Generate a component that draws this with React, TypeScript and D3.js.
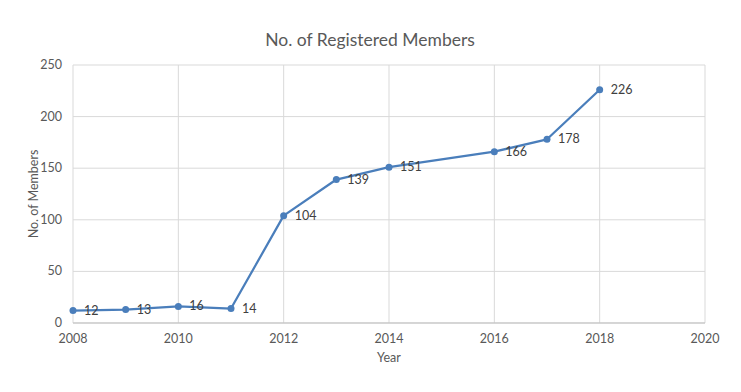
import * as d3 from 'd3';

// Registered members per year
const years = [2008, 2009, 2010, 2011, 2012, 2013, 2014, 2016, 2017, 2018];
const members = [12, 13, 16, 14, 104, 139, 151, 166, 178, 226];
const xTicks = [2008, 2010, 2012, 2014, 2016, 2018, 2020];
const yTicks = [0, 50, 100, 150, 200, 250];

const W = 741;
const H = 392;
const FONT = 'Lato, "Open Sans", sans-serif';
const LINE = '#4A7EBB';

export default function App() {
  const x = d3.scaleLinear().domain([2008, 2020]).range([73, 705]);
  const y = d3.scaleLinear().domain([0, 250]).range([323, 65]);
  const pts = years.map((yr, i) => ({ yr, v: members[i] }));
  const line = d3.line<{ yr: number; v: number }>()
    .x((d) => x(d.yr))
    .y((d) => y(d.v));

  return (
    <svg width={W} height={H} style={{ position: 'absolute', left: 0, top: 0, background: '#fff' }}>
      <rect width={W} height={H} fill="#fff" />
      <text x={370} y={46} textAnchor="middle" fontFamily={FONT} fontSize={17.5} fill="#595959">
        No. of Registered Members
      </text>

      {/* grid */}
      {yTicks.map((t) => (
        <line key={'gy' + t} x1={x(2008)} x2={x(2020)} y1={y(t)} y2={y(t)} stroke="#d9d9d9" strokeWidth={1} />
      ))}
      {xTicks.map((t) => (
        <line key={'gx' + t} x1={x(t)} x2={x(t)} y1={y(0)} y2={y(250)} stroke="#d9d9d9" strokeWidth={1} />
      ))}
      <line x1={x(2008)} x2={x(2020)} y1={y(0)} y2={y(0)} stroke="#bfbfbf" strokeWidth={1} />

      {/* axis labels */}
      {yTicks.map((t) => (
        <text key={'ty' + t} x={62} y={y(t) + 4} textAnchor="end" fontFamily={FONT} fontSize={12.5} fill="#595959">
          {t}
        </text>
      ))}
      {xTicks.map((t) => (
        <text key={'tx' + t} x={x(t)} y={343} textAnchor="middle" fontFamily={FONT} fontSize={12.5} fill="#595959">
          {t}
        </text>
      ))}
      <text x={389} y={362} textAnchor="middle" fontFamily={FONT} fontSize={12.5} fill="#595959">
        Year
      </text>
      <text
        transform={`translate(38,${(y(0) + y(250)) / 2}) rotate(-90)`}
        textAnchor="middle"
        fontFamily={FONT}
        fontSize={12.5}
        fill="#595959"
      >
        No. of Members
      </text>

      {/* series */}
      <path d={line(pts) ?? ''} fill="none" stroke={LINE} strokeWidth={2.25} strokeLinejoin="round" />
      {pts.map((d) => (
        <circle key={'c' + d.yr} cx={x(d.yr)} cy={y(d.v)} r={3.5} fill={LINE} />
      ))}
      {pts.map((d) => (
        <text key={'l' + d.yr} x={x(d.yr) + 11} y={y(d.v) + 4} fontFamily={FONT} fontSize={12.5} fill="#404040">
          {d.v}
        </text>
      ))}
    </svg>
  );
}
